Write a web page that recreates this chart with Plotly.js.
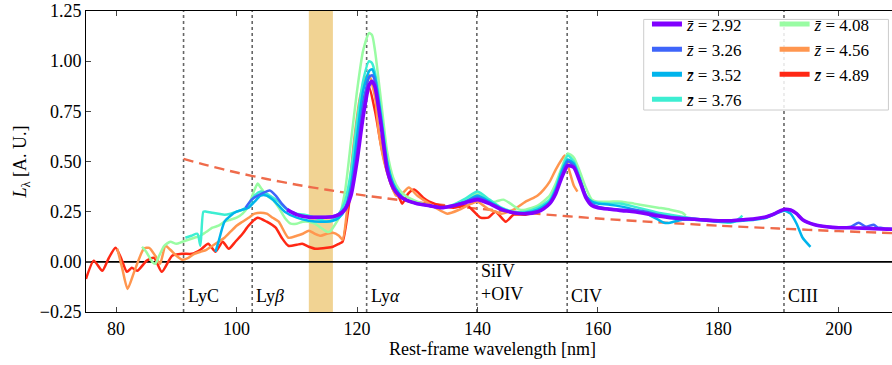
<!DOCTYPE html>
<html>
<head>
<meta charset="utf-8">
<script src="https://cdn.plot.ly/plotly-3.0.1.min.js"></script>
<style>
html,body{margin:0;padding:0;width:892px;height:365px;overflow:hidden;background:#fff;}
#chart{width:900px;height:365px;}
</style>
</head>
<body>
<div id="chart"></div>
<script>
// ---- data ----
const zLabels = ["2.92", "3.26", "3.52", "3.76", "4.08", "4.56", "4.89"];
const colors = ["#8000ff", "#3e65fa", "#00b4ec", "#3deed2", "#99fca3", "#ff964f", "#ff2814"];

const wl_z292 = [108.4,110,112,114,116,117,118,119,120,121,122,122.5,123,124,125,126,127,128,130,132,134,136,138,140,142,144,146,148,150,151,152,153,154,155,156,157,158,159,160,162,164,166,168,170,172,174,176,178,180,182,184,186,188,189,190,191,192,193,194,196,198,200,202,204,206,208,210];
const L_z292  = [0.26,0.235,0.222,0.222,0.225,0.235,0.26,0.33,0.5,0.72,0.88,0.9,0.87,0.68,0.46,0.37,0.33,0.31,0.29,0.28,0.27,0.28,0.295,0.31,0.29,0.26,0.245,0.24,0.25,0.265,0.29,0.34,0.42,0.48,0.47,0.4,0.32,0.28,0.27,0.262,0.255,0.25,0.24,0.228,0.22,0.215,0.212,0.208,0.205,0.205,0.21,0.215,0.225,0.235,0.25,0.262,0.258,0.24,0.21,0.185,0.175,0.17,0.17,0.168,0.165,0.163,0.162];

const wl_z326 = [101.5,102.5,103.5,104.5,105.5,106.5,107.5,108.5,110,112,114,116,117,118,119,120,121,122,122.5,123,124,125,126,127,128,130,132,134,136,138,140,142,144,146,148,150,152,153,154,155,156,157,158,159,160,162,164,166,168,170,172,174,176,178,180,182,184,186,188,190,191,192,193,194,196,198,200,202,203.3,204.5,205.8,206.5,207,208,210];
const L_z326  = [0.27,0.31,0.33,0.345,0.355,0.33,0.29,0.26,0.235,0.225,0.223,0.227,0.24,0.27,0.36,0.55,0.78,0.92,0.93,0.9,0.7,0.47,0.37,0.33,0.31,0.29,0.28,0.27,0.28,0.3,0.32,0.295,0.265,0.245,0.24,0.25,0.29,0.35,0.43,0.5,0.48,0.41,0.33,0.29,0.275,0.265,0.26,0.26,0.25,0.235,0.225,0.22,0.215,0.21,0.205,0.205,0.21,0.215,0.225,0.25,0.262,0.258,0.24,0.21,0.185,0.175,0.172,0.175,0.195,0.175,0.185,0.17,0.17,0.165,0.165];

const wl_z352 = [96.5,97,98,99,100,101,102,103,104,105,106,107,108,110,112,114,116,117,118,119,120,121,122,122.5,123,124,125,126,127,128,130,132,134,136,138,140,142,144,146,148,150,152,153,154,155,156,157,158,159,160,162,164,166,168,170,171,172,174,176,178,180,182,184,186,188,190,191,192,193,194,195.3];
const L_z352  = [0.05,0.1,0.2,0.23,0.25,0.26,0.27,0.3,0.33,0.33,0.31,0.28,0.25,0.22,0.205,0.2,0.205,0.22,0.26,0.38,0.62,0.85,0.95,0.96,0.92,0.72,0.5,0.39,0.34,0.31,0.29,0.28,0.27,0.28,0.3,0.33,0.3,0.265,0.245,0.245,0.26,0.3,0.36,0.45,0.51,0.49,0.41,0.33,0.3,0.29,0.285,0.275,0.26,0.24,0.21,0.195,0.195,0.21,0.21,0.205,0.2,0.2,0.205,0.21,0.22,0.245,0.255,0.24,0.19,0.12,0.075];

const wl_z376 = [91.5,92.5,93.5,94,94.5,95,96,97,98,99,100,101,102,103,104,105,106,107,108,109,110,112,114,115,116,117,118,119,120,121,122,122.5,123,124,125,126,127,128,130,132,134,136,138,140,142,144,146,148,150,152,153,154,155,156,157,158,159,160,162,164,166,168,170,172,174,176,178,180,182,183,184];
const L_z376  = [0.12,0.13,0.14,0.08,0.25,0.25,0.245,0.24,0.235,0.24,0.25,0.26,0.28,0.33,0.35,0.34,0.32,0.3,0.27,0.25,0.24,0.23,0.21,0.2,0.21,0.24,0.3,0.45,0.7,0.9,1.0,0.99,0.94,0.74,0.5,0.39,0.34,0.31,0.29,0.28,0.27,0.285,0.315,0.35,0.31,0.27,0.25,0.25,0.27,0.31,0.37,0.46,0.53,0.5,0.42,0.33,0.3,0.295,0.29,0.29,0.275,0.26,0.245,0.235,0.225,0.215,0.21,0.2,0.195,0.205,0.23];

const wl_z408 = [84.3,85,86,86.5,87,88,89,90,91,92,93,94,95,96,97,98,99,100,101,102,103,103.5,104,105,106,107,108,109,110,111,112,113,114,115,115.5,116,117,118,119,120,121,122,122.5,123,124,125,126,127,128,130,132,134,136,138,140,141,142,143,144.3,145.5,147,148,150,152,153,154,155,156,157,158,159,160,162,164,166,168,170,172,174,174.6];
const L_z408  = [0.075,0.05,0.0,-0.01,0.02,0.08,0.1,0.09,0.1,0.11,0.12,0.13,0.15,0.17,0.18,0.2,0.21,0.22,0.24,0.28,0.36,0.39,0.37,0.33,0.31,0.27,0.22,0.19,0.19,0.2,0.2,0.19,0.17,0.15,0.15,0.17,0.22,0.35,0.6,0.85,1.05,1.14,1.13,1.05,0.8,0.55,0.42,0.36,0.33,0.3,0.28,0.27,0.28,0.31,0.34,0.33,0.3,0.3,0.31,0.29,0.26,0.26,0.28,0.33,0.39,0.47,0.54,0.52,0.45,0.37,0.31,0.3,0.3,0.3,0.29,0.28,0.27,0.26,0.245,0.23,0.22,0.29];

const wl_z456 = [80.2,81,81.9,83,84.6,85.5,86.5,87.3,88.2,89,90,91,92,93,94,95,96,97,98,99,100,101,102,103,104,105,106,107,108.6,110,111,112,113,114,115,116,117,117.6,118.5,119.5,120.5,121.5,122,123,123.6,124.5,125.5,126.5,127.5,128.6,130,132,133,135,137,139,140,141,142,143,144,146,148,149.4,150,151,152,153,154,154.5,155.3,156,156.6];
const L_z456  = [0.065,-0.03,-0.135,-0.05,0.065,0.07,0.03,-0.01,0.08,0.06,0.03,0.01,0.02,0.04,0.05,0.06,0.08,0.1,0.12,0.15,0.18,0.2,0.22,0.24,0.245,0.24,0.22,0.2,0.12,0.13,0.14,0.155,0.14,0.13,0.14,0.145,0.13,0.11,0.3,0.6,0.82,0.92,0.93,0.82,0.65,0.5,0.4,0.33,0.34,0.37,0.33,0.29,0.27,0.24,0.26,0.29,0.3,0.28,0.26,0.25,0.24,0.26,0.3,0.32,0.33,0.36,0.4,0.46,0.51,0.53,0.45,0.38,0.35];

const wl_z489 = [75,76.3,77.7,78.8,79.9,80.8,81.8,82.6,83.5,85.1,86.3,87.6,89.3,91,92.6,94,95.3,96.5,97.7,98.7,99.8,101,102,103.5,105,106.5,107.5,108.6,110,110.9,112,113.1,115,116,117,117.6,118.5,119.5,120.5,121.5,122,123,124,125,126,127,127.5,128.5,129.5,131,132,134,136,138.3,140.5,141.8,143,144.7,146,148,150];
const L_z489  = [-0.085,0.006,-0.045,0.02,0.07,0.02,-0.05,-0.03,-0.045,0.006,0.02,-0.05,0.03,0.04,0.04,0.06,0.09,0.05,0.1,0.065,0.1,0.14,0.18,0.22,0.2,0.17,0.12,0.08,0.085,0.09,0.075,0.065,0.07,0.075,0.09,0.1,0.25,0.5,0.72,0.85,0.87,0.75,0.58,0.45,0.36,0.32,0.29,0.34,0.36,0.32,0.3,0.28,0.27,0.28,0.22,0.22,0.25,0.2,0.235,0.235,0.25];

// power-law continuum (dashed)
const wl_cont = [91.2,95,100,105,110,115,120,125,130,140,150,160,170,180,190,200,210];
const L_cont  = [0.513,0.482,0.445,0.413,0.384,0.359,0.336,0.316,0.297,0.265,0.239,0.216,0.197,0.18,0.166,0.153,0.142];

// emission lines
const lineNames = ["LyC", "Ly<i>β</i>", "Ly<i>α</i>", "SiIV<br>+OIV", "CIV", "CIII"];
const lineWl    = [91.2, 102.6, 121.6, 139.9, 154.9, 190.9];
// masked band
const bandWl = [112, 116];

const xAxisTicks = [80, 100, 120, 140, 160, 180, 200];
const yAxisTicks = [-0.25, 0, 0.25, 0.5, 0.75, 1.0, 1.25];

// ---- build ----
const series = [
  [wl_z292, L_z292], [wl_z326, L_z326], [wl_z352, L_z352], [wl_z376, L_z376],
  [wl_z408, L_z408], [wl_z456, L_z456], [wl_z489, L_z489]
];
const FONT = "Liberation Serif, DejaVu Serif, serif";
const FS = 18;
const traces = [];
traces.push({x: wl_cont, y: L_cont, mode: "lines", showlegend: false, hoverinfo: "skip",
  line: {color: "#ef6b4b", width: 2.4, dash: "10px,6px", shape: "spline", smoothing: 0.6}});
// plot red first, purple last (purple on top)
for (let i = series.length - 1; i >= 0; i--) {
  traces.push({x: series[i][0], y: series[i][1], mode: "lines", showlegend: false,
    line: {color: colors[i], width: i === 0 ? 3.6 : 2.5, shape: "spline", smoothing: 0.6}});
}
// legend entries (thicker lines as in the reference)
for (let i = 0; i < series.length; i++) {
  traces.push({x: [null], y: [null], mode: "lines", name: "<i>z̄</i> = " + zLabels[i],
    legend: i < 4 ? "legend" : "legend2",
    line: {color: colors[i], width: 5}});
}

const shapes = [];
shapes.push({type: "rect", xref: "x", yref: "paper", x0: bandWl[0], x1: bandWl[1], y0: 0, y1: 1,
  fillcolor: "#f1d393", line: {width: 0}, layer: "below"});
lineWl.forEach(w => shapes.push({type: "line", xref: "x", yref: "paper", x0: w, x1: w, y0: 0, y1: 1,
  line: {color: "#666", width: 1.6, dash: "dot"}, layer: "below"}));
shapes.push({type: "line", xref: "paper", yref: "y", x0: 0, x1: 1, y0: 0, y1: 0,
  line: {color: "#000", width: 1.8}, layer: "below"});
// legend frame
shapes.push({type: "rect", xref: "paper", yref: "paper", x0: 0.686, x1: 0.987, y0: 0.671, y1: 0.972,
  fillcolor: "rgba(255,255,255,0.85)", line: {color: "#cccccc", width: 1}, layer: "above"});

const annotations = lineNames.map((t, k) => ({
  x: lineWl[k], y: k === 3 ? -0.105 : -0.17, xref: "x", yref: "y", text: t, showarrow: false,
  xanchor: "left", yanchor: "middle", xshift: 2, align: "left",
  font: {family: FONT, size: FS, color: "#000"}
}));

const layout = {
  width: 900, height: 365,
  margin: {l: 86, r: 1, t: 11, b: 53},
  paper_bgcolor: "#fff", plot_bgcolor: "#fff",
  font: {family: FONT, size: FS, color: "#000"},
  xaxis: {range: [75, 210], tickvals: xAxisTicks, ticks: "inside", ticklen: 5, tickwidth: 1,
    showline: true, linecolor: "#000", linewidth: 1, mirror: "ticks", showgrid: false, zeroline: false,
    title: {text: "Rest-frame wavelength [nm]", font: {family: FONT, size: FS}, standoff: 4},
    tickfont: {family: FONT, size: FS}},
  yaxis: {range: [-0.25, 1.25], tickvals: yAxisTicks, tickformat: ".2f", ticks: "inside", ticklen: 5, tickwidth: 1,
    showline: true, linecolor: "#000", linewidth: 1, mirror: "ticks", showgrid: false, zeroline: false,
    title: {text: "<i>L</i><sub>λ</sub> [A. U.]", font: {family: FONT, size: FS}, standoff: 8},
    tickfont: {family: FONT, size: FS}},
  legend: {x: 0.690, y: 1.015, xanchor: "left", yanchor: "top", bgcolor: "rgba(0,0,0,0)",
    borderwidth: 0, font: {family: FONT, size: 17}, itemwidth: 30, tracegroupgap: 0},
  legend2: {x: 0.847, y: 1.015, xanchor: "left", yanchor: "top", bgcolor: "rgba(0,0,0,0)",
    borderwidth: 0, font: {family: FONT, size: 17}, itemwidth: 30, tracegroupgap: 0},
  shapes: shapes,
  annotations: annotations,
  showlegend: true
};

Plotly.newPlot("chart", traces, layout, {displayModeBar: false, staticPlot: true});
</script>
</body>
</html>
